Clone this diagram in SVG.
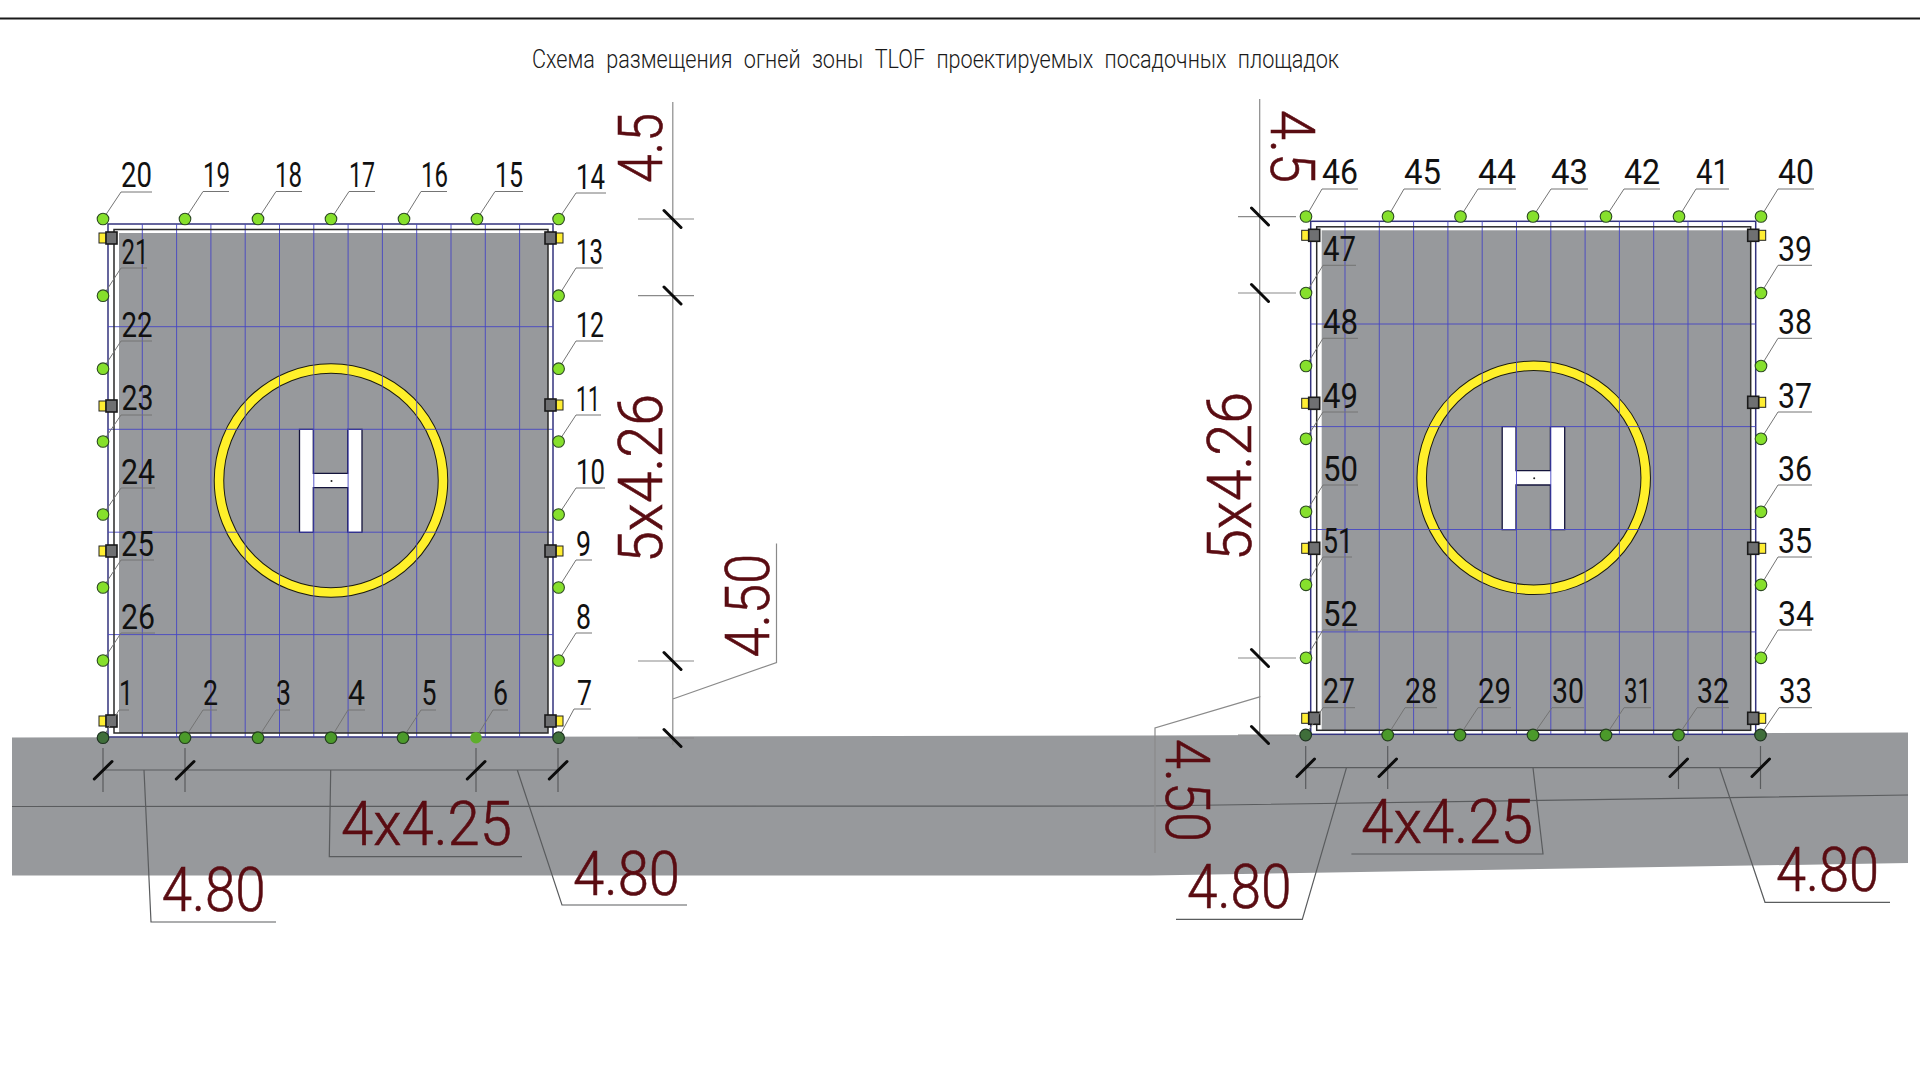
<svg xmlns="http://www.w3.org/2000/svg" xmlns:xlink="http://www.w3.org/1999/xlink" width="1920" height="1080" viewBox="0 0 1920 1080">
<style>
text{font-family:"Roboto","Liberation Sans",sans-serif}
.l{font-size:35px;font-weight:400;fill:#111}
.d{font-size:62px;font-weight:300;fill:#5a0c12;stroke:#5a0c12;stroke-width:.6}
.t{font-size:25px;font-weight:300;fill:#1a1a1a;word-spacing:7px}
circle.top,circle.bot,circle.cor,circle.soft{r:5.8px}
.top{fill:#86e02c;stroke:#2c4a20;stroke-width:1.1}
.bot{fill:#4b9a2a;stroke:#24401c;stroke-width:1.2}
.cor{fill:#3f6e3a;stroke:#1e3320;stroke-width:1.2}
.soft{fill:#5eae2b}
.lead{fill:none;stroke:#747474;stroke-width:1}
.ext{fill:none;stroke:#8a8a8a;stroke-width:1.2}
.ext2{fill:none;stroke:#5a5c5e;stroke-width:1.2}
.tick{stroke:#0c0c0c;stroke-width:3;stroke-linecap:round}
.grid{stroke:#4646c4;stroke-width:.9;fill:none}
</style>
<defs>
<g id="lightL"><rect x="99" y="-5" width="7" height="10" fill="#ffee33" stroke="#222" stroke-width="1"/><rect x="106" y="-6" width="11" height="12" fill="#6f7072" stroke="#1a1a1a" stroke-width="1.6"/></g>
<g id="lightR"><rect x="556" y="-5" width="7" height="10" fill="#ffee33" stroke="#222" stroke-width="1"/><rect x="545" y="-6" width="11" height="12" fill="#6f7072" stroke="#1a1a1a" stroke-width="1.6"/></g>
<g id="padBase">
<rect x="108" y="224" width="445" height="513" fill="#fff" stroke="#33337e" stroke-width="1.5"/>
<rect x="119" y="233" width="429" height="500" fill="#97999c"/>
<circle cx="331" cy="480.5" r="112" fill="none" stroke="#1c1c10" stroke-width="10.5"/>
<circle cx="331" cy="480.5" r="112" fill="none" stroke="#fff02a" stroke-width="8.5"/>
<path d="M299.5 429.3H313.3V473.3H347.7V429.3H362V532.3H347.7V487.7H313.3V532.3H299.5Z" fill="#fff" stroke="#14143c" stroke-width="1.3"/>
<circle cx="331.5" cy="481" r="1" fill="#222"/>
<path class="grid" d="M142.3 224V737M176.6 224V737M210.9 224V737M245.2 224V737M279.5 224V737M313.8 224V737M348.1 224V737M382.4 224V737M416.7 224V737M451 224V737M485.3 224V737M519.6 224V737M108 326.7H553M108 429.3H553M108 532.2H553M108 634.6H553"/>
<rect x="114" y="229.5" width="434" height="503.5" fill="none" stroke="#2a2a2a" stroke-width="1.5"/>
<use xlink:href="#lightL" href="#lightL" y="238"/><use xlink:href="#lightL" href="#lightL" y="406"/><use xlink:href="#lightL" href="#lightL" y="551"/><use xlink:href="#lightL" href="#lightL" y="721"/>
<use xlink:href="#lightR" href="#lightR" y="238"/><use xlink:href="#lightR" href="#lightR" y="405"/><use xlink:href="#lightR" href="#lightR" y="551"/><use xlink:href="#lightR" href="#lightR" y="721"/>
</g>
</defs>
<rect width="1920" height="1080" fill="#fff"/>
<line x1="0" y1="18.5" x2="1920" y2="18.5" stroke="#1a1a1a" stroke-width="2"/>
<text class="t" x="532" y="68" textLength="807" lengthAdjust="spacingAndGlyphs">Схема размещения огней зоны TLOF проектируемых посадочных площадок</text>
<g id="road"><path d="M12 737.5L1150 735.5L1908 732.5V863L1150 875.5H12Z" fill="#97999c"/><path d="M12 806.5L1150 806L1908 795" fill="none" stroke="#5a5c5e" stroke-width="1.2"/></g>
<g id="padA"><use xlink:href="#padBase" href="#padBase"/></g>
<g id="padB"><use xlink:href="#padBase" href="#padBase" transform="translate(1202.7 -2.7)"/></g>
<g id="connectors">
<g id="leaders" class="lead">
<path d="M103 219L121 192H152M185 219L203 191.5H229M258 219L276 191.5H302M331 219L349 191.5H375M404 219L421 191.5H447M477 219L495 191.5H523M558.6 219L576 193H606"/>
<path d="M558.6 295.7L576 268H603M558.6 368.7L576 341H603M558.6 441.5L576 415H601M558.6 514.5L576 488H605M558.6 587.5L576 560H592M558.6 660.5L576 633H592M558.6 737.7L574 709H591"/>
<path d="M103 295.7L121 268H147M103 368.7L121 341H152M103 441.5L121 415H152M103 514.5L121 488H155M103 587.5L121 560H154M103 660.5L121 633H155M103 737.7L119 710H129"/>
<path d="M185 737.7L203 710H217M258 737.7L276 710H290M331 737.7L348 710H365M403 737.7L421 710H436M476 737.7L493 710H508"/>
<path d="M1306 216.5L1322 189H1358M1388 216.5L1404 189H1441M1460.5 216.5L1478 189H1516M1533 216.5L1551 189H1588M1606 216.5L1624 189H1660M1679 216.5L1696 189H1729M1761 216.5L1778 189H1814"/>
<path d="M1761 293L1778 265.3H1812M1761 366L1778 338.3H1812M1761 438.8L1778 412H1812M1761 511.8L1778 485H1812M1761 584.8L1778 557H1812M1761 657.8L1778 630H1812M1760.5 735L1779 707.7H1812"/>
<path d="M1306 293L1323 265.3H1356M1306 366L1323 338.3H1358M1306 438.8L1323 412H1358M1306 511.8L1323 485H1358M1306 584.8L1323 557H1352M1306 657.8L1323 630H1358M1305.7 735L1323 707.7H1355"/>
<path d="M1387.7 735L1405 707.7H1437M1460 735L1478 707.7H1511M1533 735L1552 707.7H1584M1606 735L1624 707.7H1651M1678.5 735L1697 707.7H1729"/>
</g>
<g id="dims-vertical">
<path class="ext" d="M672.8 102V745M638 219H694M638 295.7H694M638 661H694M638 738H694M672.8 699L776.5 662.5V543.5"/>
<path class="ext" d="M1259.7 99V733M1238 216.7H1296M1238 293H1296M1238 658H1296M1238 735H1296M1260.5 696.7L1155 728V853"/>
<path class="tick" d="M664 210.5L681 227.5M664 287L681 304M664 652.5L681 669.5M664 729.5L681 746.5M1251.5 208L1268.5 225M1251.5 284.5L1268.5 301.5M1251.5 649.5L1268.5 666.5M1251.5 726.5L1268.5 743.5"/>
</g>
<g id="dims-horizontal">
<path class="ext2" d="M103 748V792M185 748V792M476 748V792M558 748V792M103 770H560M144 770L151 922H276M330.7 770L329.3 856.7H522M517.3 770L562 905H687"/>
<path class="ext2" d="M1305.7 746V789M1387.7 746V789M1678.5 746V789M1760.5 746V789M1306 767.7H1762M1346.5 767.7L1302.3 919.3H1176M1533 767.7L1543 854H1351.4M1719.7 767.7L1765 902.3H1890"/>
<path class="tick" d="M94.3 779L112 761.5M176.3 779L194 761.5M467.3 779L485 761.5M549.3 779L567 761.5M1297 776.5L1314.5 759M1379 776.5L1396.5 759M1670 776.5L1687.5 759M1752 776.5L1769.5 759"/>
</g>
</g>
<g id="lights-a">
<g id="n20"><circle class="top" cx="103" cy="219" r="5.8"/><text class="l" x="121" y="186.7" textLength="31" lengthAdjust="spacingAndGlyphs">20</text></g>
<g id="n19"><circle class="top" cx="185" cy="219" r="5.8"/><text class="l" x="203" y="186.7" textLength="27" lengthAdjust="spacingAndGlyphs">19</text></g>
<g id="n18"><circle class="top" cx="258" cy="219" r="5.8"/><text class="l" x="275" y="186.7" textLength="27" lengthAdjust="spacingAndGlyphs">18</text></g>
<g id="n17"><circle class="top" cx="331" cy="219" r="5.8"/><text class="l" x="349" y="186.7" textLength="26" lengthAdjust="spacingAndGlyphs">17</text></g>
<g id="n16"><circle class="top" cx="404" cy="219" r="5.8"/><text class="l" x="421" y="186.7" textLength="27" lengthAdjust="spacingAndGlyphs">16</text></g>
<g id="n15"><circle class="top" cx="477" cy="219" r="5.8"/><text class="l" x="495" y="186.7" textLength="28" lengthAdjust="spacingAndGlyphs">15</text></g>
<g id="n14"><circle class="top" cx="558.6" cy="219" r="5.8"/><text class="l" x="576" y="189" textLength="29" lengthAdjust="spacingAndGlyphs">14</text></g>
<g id="n13"><circle class="top" cx="558.6" cy="295.7" r="5.8"/><text class="l" x="576" y="264" textLength="27" lengthAdjust="spacingAndGlyphs">13</text></g>
<g id="n12"><circle class="top" cx="558.6" cy="368.7" r="5.8"/><text class="l" x="576" y="337" textLength="28" lengthAdjust="spacingAndGlyphs">12</text></g>
<g id="n11"><circle class="top" cx="558.6" cy="441.5" r="5.8"/><text class="l" x="576" y="411" textLength="24" lengthAdjust="spacingAndGlyphs">11</text></g>
<g id="n10"><circle class="top" cx="558.6" cy="514.5" r="5.8"/><text class="l" x="576" y="484" textLength="29" lengthAdjust="spacingAndGlyphs">10</text></g>
<g id="n9"><circle class="top" cx="558.6" cy="587.5" r="5.8"/><text class="l" x="576" y="556" textLength="15" lengthAdjust="spacingAndGlyphs">9</text></g>
<g id="n8"><circle class="top" cx="558.6" cy="660.5" r="5.8"/><text class="l" x="576" y="629" textLength="15" lengthAdjust="spacingAndGlyphs">8</text></g>
<g id="n7"><circle class="cor" cx="558.6" cy="737.7" r="5.8"/><text class="l" x="577" y="705" textLength="15" lengthAdjust="spacingAndGlyphs">7</text></g>
<g id="n21"><circle class="top" cx="103" cy="295.7" r="5.8"/><text class="l" x="121.5" y="264" textLength="27" lengthAdjust="spacingAndGlyphs">21</text></g>
<g id="n22"><circle class="top" cx="103" cy="368.7" r="5.8"/><text class="l" x="121.5" y="336.7" textLength="31" lengthAdjust="spacingAndGlyphs">22</text></g>
<g id="n23"><circle class="top" cx="103" cy="441.5" r="5.8"/><text class="l" x="121.5" y="409.5" textLength="32" lengthAdjust="spacingAndGlyphs">23</text></g>
<g id="n24"><circle class="top" cx="103" cy="514.5" r="5.8"/><text class="l" x="121" y="484" textLength="34" lengthAdjust="spacingAndGlyphs">24</text></g>
<g id="n25"><circle class="top" cx="103" cy="587.5" r="5.8"/><text class="l" x="121" y="556" textLength="33" lengthAdjust="spacingAndGlyphs">25</text></g>
<g id="n26"><circle class="top" cx="103" cy="660.5" r="5.8"/><text class="l" x="121" y="629" textLength="34" lengthAdjust="spacingAndGlyphs">26</text></g>
<g id="n1"><circle class="cor" cx="103" cy="737.7" r="5.8"/><text class="l" x="119" y="705" textLength="14" lengthAdjust="spacingAndGlyphs">1</text></g>
<g id="n2"><circle class="bot" cx="185" cy="737.7" r="5.8"/><text class="l" x="203" y="705" textLength="15" lengthAdjust="spacingAndGlyphs">2</text></g>
<g id="n3"><circle class="bot" cx="258" cy="737.7" r="5.8"/><text class="l" x="276" y="705" textLength="15" lengthAdjust="spacingAndGlyphs">3</text></g>
<g id="n4"><circle class="bot" cx="331" cy="737.7" r="5.8"/><text class="l" x="348" y="705" textLength="17" lengthAdjust="spacingAndGlyphs">4</text></g>
<g id="n5"><circle class="bot" cx="403" cy="737.7" r="5.8"/><text class="l" x="421.5" y="705" textLength="15" lengthAdjust="spacingAndGlyphs">5</text></g>
<g id="n6"><circle class="soft" cx="476" cy="737.7" r="5.8"/><text class="l" x="493" y="705" textLength="15" lengthAdjust="spacingAndGlyphs">6</text></g>
</g>
<g id="lights-b">
<g id="n46"><circle class="top" cx="1306" cy="216.5" r="5.8"/><text class="l" x="1322" y="184" textLength="36" lengthAdjust="spacingAndGlyphs">46</text></g>
<g id="n45"><circle class="top" cx="1388" cy="216.5" r="5.8"/><text class="l" x="1404" y="184" textLength="37" lengthAdjust="spacingAndGlyphs">45</text></g>
<g id="n44"><circle class="top" cx="1460.5" cy="216.5" r="5.8"/><text class="l" x="1478" y="184" textLength="38" lengthAdjust="spacingAndGlyphs">44</text></g>
<g id="n43"><circle class="top" cx="1533" cy="216.5" r="5.8"/><text class="l" x="1551" y="184" textLength="37" lengthAdjust="spacingAndGlyphs">43</text></g>
<g id="n42"><circle class="top" cx="1606" cy="216.5" r="5.8"/><text class="l" x="1624" y="184" textLength="36" lengthAdjust="spacingAndGlyphs">42</text></g>
<g id="n41"><circle class="top" cx="1679" cy="216.5" r="5.8"/><text class="l" x="1696" y="184" textLength="33" lengthAdjust="spacingAndGlyphs">41</text></g>
<g id="n40"><circle class="top" cx="1761" cy="216.5" r="5.8"/><text class="l" x="1778" y="184" textLength="36" lengthAdjust="spacingAndGlyphs">40</text></g>
<g id="n39"><circle class="top" cx="1761" cy="293" r="5.8"/><text class="l" x="1778" y="261.3" textLength="34" lengthAdjust="spacingAndGlyphs">39</text></g>
<g id="n38"><circle class="top" cx="1761" cy="366" r="5.8"/><text class="l" x="1778" y="334.3" textLength="34" lengthAdjust="spacingAndGlyphs">38</text></g>
<g id="n37"><circle class="top" cx="1761" cy="438.8" r="5.8"/><text class="l" x="1778" y="408" textLength="34" lengthAdjust="spacingAndGlyphs">37</text></g>
<g id="n36"><circle class="top" cx="1761" cy="511.8" r="5.8"/><text class="l" x="1778" y="481" textLength="34" lengthAdjust="spacingAndGlyphs">36</text></g>
<g id="n35"><circle class="top" cx="1761" cy="584.8" r="5.8"/><text class="l" x="1778" y="553.3" textLength="34" lengthAdjust="spacingAndGlyphs">35</text></g>
<g id="n34"><circle class="top" cx="1761" cy="657.8" r="5.8"/><text class="l" x="1778" y="626.3" textLength="36" lengthAdjust="spacingAndGlyphs">34</text></g>
<g id="n33"><circle class="cor" cx="1760.5" cy="735" r="5.8"/><text class="l" x="1779" y="702.7" textLength="33" lengthAdjust="spacingAndGlyphs">33</text></g>
<g id="n47"><circle class="top" cx="1306" cy="293" r="5.8"/><text class="l" x="1323" y="261.3" textLength="33" lengthAdjust="spacingAndGlyphs">47</text></g>
<g id="n48"><circle class="top" cx="1306" cy="366" r="5.8"/><text class="l" x="1323" y="334.3" textLength="35" lengthAdjust="spacingAndGlyphs">48</text></g>
<g id="n49"><circle class="top" cx="1306" cy="438.8" r="5.8"/><text class="l" x="1323" y="408" textLength="35" lengthAdjust="spacingAndGlyphs">49</text></g>
<g id="n50"><circle class="top" cx="1306" cy="511.8" r="5.8"/><text class="l" x="1323" y="481" textLength="35" lengthAdjust="spacingAndGlyphs">50</text></g>
<g id="n51"><circle class="top" cx="1306" cy="584.8" r="5.8"/><text class="l" x="1323" y="553.3" textLength="30" lengthAdjust="spacingAndGlyphs">51</text></g>
<g id="n52"><circle class="top" cx="1306" cy="657.8" r="5.8"/><text class="l" x="1323" y="626.3" textLength="35" lengthAdjust="spacingAndGlyphs">52</text></g>
<g id="n27"><circle class="cor" cx="1305.7" cy="735" r="5.8"/><text class="l" x="1323" y="702.7" textLength="32" lengthAdjust="spacingAndGlyphs">27</text></g>
<g id="n28"><circle class="bot" cx="1387.7" cy="735" r="5.8"/><text class="l" x="1405" y="702.7" textLength="32" lengthAdjust="spacingAndGlyphs">28</text></g>
<g id="n29"><circle class="bot" cx="1460" cy="735" r="5.8"/><text class="l" x="1478" y="702.7" textLength="33" lengthAdjust="spacingAndGlyphs">29</text></g>
<g id="n30"><circle class="bot" cx="1533" cy="735" r="5.8"/><text class="l" x="1552" y="702.7" textLength="32" lengthAdjust="spacingAndGlyphs">30</text></g>
<g id="n31"><circle class="bot" cx="1606" cy="735" r="5.8"/><text class="l" x="1624" y="702.7" textLength="27" lengthAdjust="spacingAndGlyphs">31</text></g>
<g id="n32"><circle class="bot" cx="1678.5" cy="735" r="5.8"/><text class="l" x="1697" y="702.7" textLength="32" lengthAdjust="spacingAndGlyphs">32</text></g>
</g>
<g id="dim-labels">
<text class="d" transform="translate(662 183) rotate(-90)" textLength="70" lengthAdjust="spacingAndGlyphs">4.5</text>
<text class="d" transform="translate(662 563) rotate(-90)" textLength="169" lengthAdjust="spacingAndGlyphs">5x4.26</text>
<text class="d" transform="translate(769 657.6) rotate(-90)" textLength="104" lengthAdjust="spacingAndGlyphs">4.50</text>
<text class="d" transform="translate(1271 110) rotate(90)" textLength="73" lengthAdjust="spacingAndGlyphs">4.5</text>
<text class="d" transform="translate(1251 561) rotate(-90)" textLength="169" lengthAdjust="spacingAndGlyphs">5x4.26</text>
<text class="d" transform="translate(1166 739) rotate(90)" textLength="103" lengthAdjust="spacingAndGlyphs">4.50</text>
<text class="d" x="161.7" y="910.7" textLength="104" lengthAdjust="spacingAndGlyphs">4.80</text>
<text class="d" x="341" y="845" textLength="171" lengthAdjust="spacingAndGlyphs">4x4.25</text>
<text class="d" x="573" y="895" textLength="107" lengthAdjust="spacingAndGlyphs">4.80</text>
<text class="d" x="1187" y="908" textLength="104.5" lengthAdjust="spacingAndGlyphs">4.80</text>
<text class="d" x="1361" y="842.7" textLength="172" lengthAdjust="spacingAndGlyphs">4x4.25</text>
<text class="d" x="1776" y="890.7" textLength="103" lengthAdjust="spacingAndGlyphs">4.80</text>
</g>
</svg>
